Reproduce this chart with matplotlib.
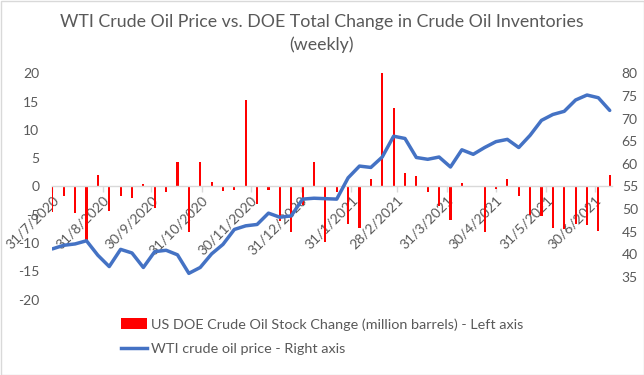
import matplotlib
matplotlib.use('Agg')
import matplotlib.pyplot as plt
import numpy as np
import pandas as pd
from matplotlib.patches import Patch, Rectangle
from matplotlib.lines import Line2D

plt.rcParams['font.family'] = ['Lato', 'DejaVu Sans']

# ---- data (weekly) ----
weeks = pd.date_range('2020-07-31', periods=50, freq='7D')
stock_change = [-4.5, -1.6, -4.7, -9.8, 2.0, -4.4, -1.6, -2.0, 0.5, -3.8,
                -1.0, 4.3, -8.0, 4.3, 0.8, -0.8, -0.7, 15.2, -3.1, -0.6,
                -6.1, -8.0, -3.2, 4.4, -9.9, -1.0, -6.6, -7.3, 1.3, 20.0,
                13.8, 2.4, 1.9, -0.9, -3.5, -5.9, 0.6, 0.1, -8.0, -0.4,
                1.3, -1.7, -5.1, -5.2, -7.4, -7.6, -6.7, -6.9, -7.9, 2.1]
wti_price = [41.2, 42.0, 42.3, 43.0, 39.8, 37.3, 41.1, 40.3, 37.1, 40.6,
             40.9, 39.9, 35.8, 37.1, 40.1, 42.2, 45.5, 46.3, 46.6, 49.1,
             48.2, 48.5, 52.2, 52.4, 52.3, 52.2, 56.9, 59.5, 59.2, 61.5,
             66.1, 65.6, 61.4, 61.0, 61.5, 59.3, 63.1, 62.1, 63.6, 64.9,
             65.4, 63.6, 66.3, 69.6, 70.9, 71.6, 74.1, 75.2, 74.6, 71.8]
tick_dates = pd.to_datetime(['2020-07-31', '2020-08-31', '2020-09-30', '2020-10-31',
                             '2020-11-30', '2020-12-31', '2021-01-31', '2021-02-28',
                             '2021-03-31', '2021-04-30', '2021-05-31', '2021-06-30'])
tick_labels = ['31/7/2020', '31/8/2020', '30/9/2020', '31/10/2020', '30/11/2020',
               '31/12/2020', '31/1/2021', '28/2/2021', '31/3/2021', '30/4/2021',
               '31/5/2021', '30/6/2021']
left_ticks = [-20, -15, -10, -5, 0, 5, 10, 15, 20]
right_ticks = [35, 40, 45, 50, 55, 60, 65, 70, 75, 80]

title = 'WTI Crude Oil Price vs. DOE Total Change in Crude Oil Inventories\n(weekly)'
bar_label = 'US DOE Crude Oil Stock Change (million barrels) - Left axis'
line_label = 'WTI crude oil price - Right axis'

GRAY = '#595959'
RED = '#FF0000'
BLUE = '#4472C4'

fig = plt.figure(figsize=(6.44, 3.75), dpi=100)
ax = fig.add_axes([51.7 / 644, 1 - 299.6 / 375, (612 - 51.7) / 644, (299.6 - 73.3) / 375])
ax2 = ax.twinx()

ax.bar(weeks, stock_change, width=1.3, color=RED, zorder=2)
ax2.plot(weeks, wti_price, color=BLUE, lw=2.5, solid_joinstyle='round', solid_capstyle='round')

ax.set_ylim(-20, 20)
ax2.set_ylim(30, 80)
ax.set_xlim(weeks[0] - pd.Timedelta(days=0.4), weeks[0] + pd.Timedelta(days=344.4))

for s in ['left', 'right', 'top']:
    ax.spines[s].set_visible(False)
for s in ['left', 'right', 'top', 'bottom']:
    ax2.spines[s].set_visible(False)
ax.spines['bottom'].set_position(('data', 0))
ax.spines['bottom'].set_color('#D9D9D9')
ax.spines['bottom'].set_linewidth(1.0)

ax.set_yticks(left_ticks)
ax.set_yticklabels([str(v) for v in left_ticks])
ax.tick_params(axis='y', length=0, pad=9, labelsize=10, labelcolor=GRAY)
ax2.set_yticks(right_ticks)
ax2.set_yticklabels([str(v) for v in right_ticks])
ax2.tick_params(axis='y', length=0, pad=7, labelsize=10, labelcolor=GRAY)

ax.set_xticks(tick_dates)
ax.set_xticklabels(tick_labels, rotation=45, ha='right', va='top', rotation_mode='anchor')
ax.tick_params(axis='x', direction='out', length=4, color='#D9D9D9', width=1,
               pad=1.5, labelsize=10, labelcolor=GRAY)

fig.text(0.5, 1 - 14 / 375, title, ha='center', va='top', fontsize=12.8, color=GRAY,
         linespacing=1.45)

handles = [Patch(facecolor=RED, edgecolor='none'),
           Line2D([0], [0], color=BLUE, lw=2.5)]
fig.legend(handles, [bar_label, line_label], loc='upper left',
           bbox_to_anchor=(121 / 644, 1 - 318 / 375), frameon=False, fontsize=10.4,
           handlelength=1.8, handleheight=0.75, handletextpad=0.25, labelspacing=0.85,
           borderaxespad=0, borderpad=0, labelcolor=GRAY)

fig.patches.append(Rectangle((0.5 / 644, 0.5 / 375), 1 - 1 / 644, 1 - 1 / 375,
                             transform=fig.transFigure, fill=False,
                             edgecolor='#D9D9D9', lw=1))

fig.savefig('out.png', dpi=100)
